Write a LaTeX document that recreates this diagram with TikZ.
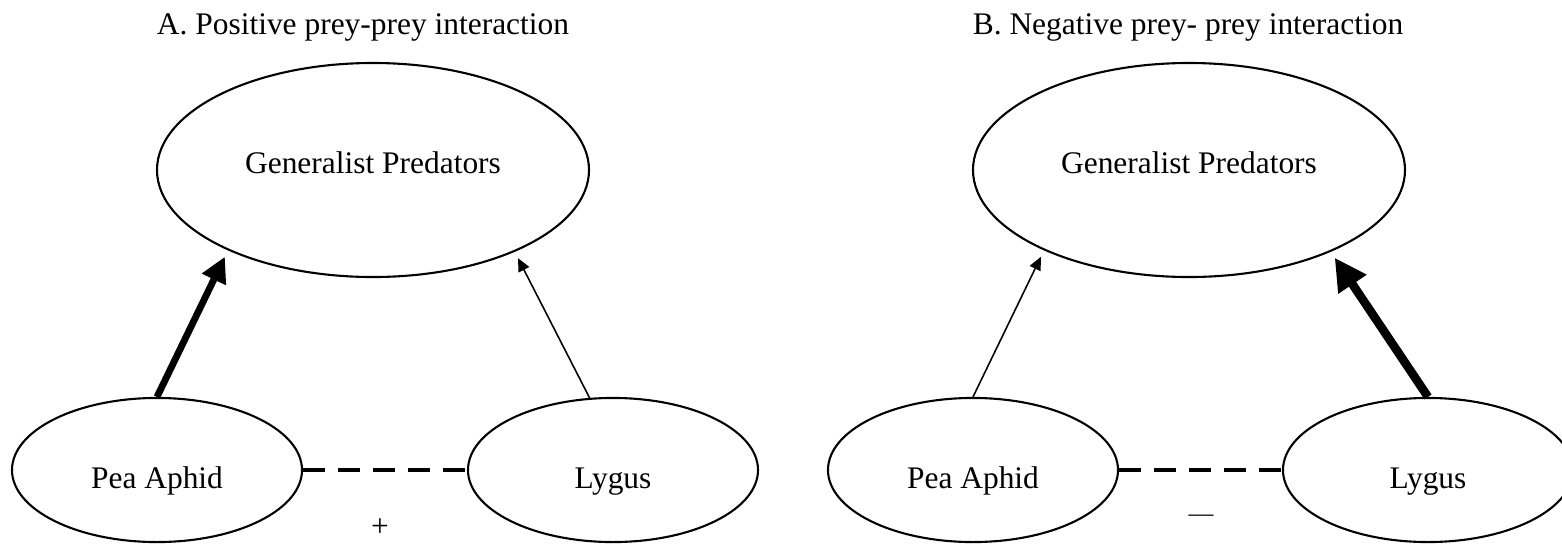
\documentclass[tikz,border=0pt]{standalone}
\usepackage{fontspec}
\setmainfont{Liberation Serif}
\usepackage{tikz}
\usetikzlibrary{
  shapes.geometric,      % ellipse nodes
  arrows.meta            % Triangle tips
}

\tikzset{
  predeco/.style={draw, ellipse, line width=0.8pt, inner sep=0pt,
    minimum width=164.9pt, minimum height=81.7pt,
    text height=6pt, text depth=3.7pt},
  preyeco/.style={draw, ellipse, line width=0.8pt, inner sep=0pt,
    minimum width=110.7pt, minimum height=55pt,
    text height=13.8pt, text depth=0pt},
  thickarr/.style={line width=#1, -{Triangle[length=0pt 3.7, width=0pt 3.7]}, shorten >=2.7pt},
  thinarr/.style={line width=0.6pt, -{Triangle[length=5pt, width=4.5pt]}, shorten >=2.7pt},
  dashlink/.style={line width=1.6pt, dash pattern=on 8.4pt off 5pt},
  heading/.style={anchor=base}
}

\begin{document}
\begin{tikzpicture}[x=0.3817pt, y=-0.3817pt,
    every node/.style={font=\fontsize{12}{14.4}\selectfont}]
        \useasboundingbox (0,0) rectangle (1562,543);

        % Panel A: positive interaction
        \node[heading] (titleA) at (363,34) {A. Positive prey-prey interaction};
        \node[predeco] (gpA) at (373,170) {Generalist Predators};
        \node[preyeco] (paA) at (157,470) {Pea Aphid};
        \node[preyeco] (lyA) at (613,470) {Lygus};

        % Feeding links, thick = strong
        \draw[thickarr=2.6pt] (paA.north) -- (gpA.209);
        \draw[thinarr] (lyA.108) -- (gpA.330);

        % Prey-prey link and its sign
        \draw[dashlink] (paA.east) -- (lyA.west);
        \node (signA) at (380,528) {+};

        % Panel B: negative interaction
        \node[heading] (titleB) at (1188,34) {B. Negative prey- prey interaction};
        \node[predeco] (gpB) at (1189,170) {Generalist Predators};
        \node[preyeco] (paB) at (973,470) {Pea Aphid};
        \node[preyeco] (lyB) at (1428,470) {Lygus};

        % Feeding links
        \draw[thinarr] (paB.north) -- (gpB.209);
        \draw[thickarr=3.3pt] (lyB.north) -- (gpB.330);

        % Prey-prey link and its sign
        \draw[dashlink] (paB.east) -- (lyB.west);
        \node[font=\fontsize{9.5}{11}\selectfont] (signB) at (1201,518) {\textemdash};

    \end{tikzpicture}
\end{document}
